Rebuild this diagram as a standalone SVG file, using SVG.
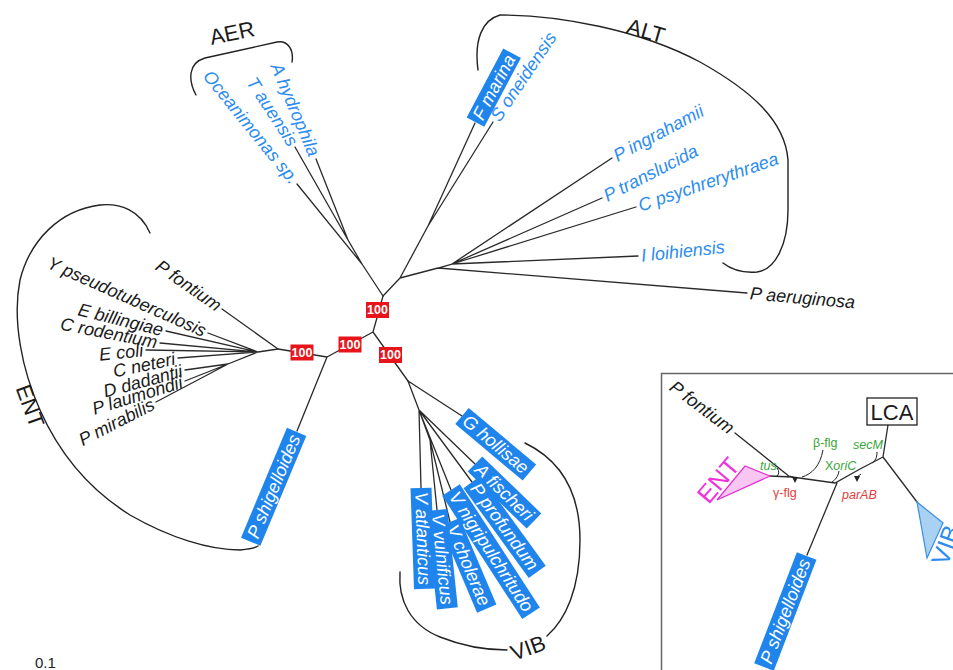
<svg xmlns="http://www.w3.org/2000/svg" width="953" height="670" viewBox="0 0 953 670">
<defs>
<style>
.br{fill:none;stroke:#2a2a2a;stroke-width:1.3;stroke-linecap:round}
.bk{fill:none;stroke:#222;stroke-width:1.4;stroke-linecap:round}
.t{font-family:"Liberation Sans",Arial,Helvetica,sans-serif;font-size:18px;font-style:italic;dominant-baseline:central}
.bl{fill:#2b8cf0}
.k{fill:#1a1a1a}
.w{fill:#fff}
.e{text-anchor:end}
.bx{fill:#1f85ec}
.rb{fill:#e8141b}
.bt{font-family:"Liberation Sans",Arial,sans-serif;font-size:12.5px;font-weight:bold;fill:#fff;text-anchor:middle;dominant-baseline:central}
.cl{font-family:"Liberation Sans",Arial,sans-serif;font-size:22px;fill:#1a1a1a;text-anchor:middle;dominant-baseline:central}
.g{font-family:"Liberation Sans",Arial,sans-serif;font-size:12.5px;fill:#3aa63a}
.r{font-family:"Liberation Sans",Arial,sans-serif;font-size:12.5px;fill:#e53b3b}
.hk{fill:none;stroke:#222;stroke-width:1}
</style>
<marker id="ah" viewBox="0 0 6 6" refX="3" refY="3" markerWidth="6" markerHeight="6" orient="auto">
<path d="M0,0 L6,3 L0,6 Z" fill="#222"/>
</marker>
</defs>
<rect width="953" height="670" fill="#fff"/>

<g id="connectors" class="br">
<path d="M383,296 L373,332 M373,332 L327,357 M373,332 L408,381 M327,357 L278,349 M327,357 L297,431"/>
<path d="M383,296 L362,264 M362,264 L297,184 M362,264 L348,240 M348,240 L295,147 M348,240 L316,159"/>
<path d="M383,296 L400,278 M400,278 L428,226 M428,226 L475,123 M428,226 L493,122 M400,278 L438,268 M438,268 L747,293 M438,268 L452,264 M452,264 L612,158 M452,264 L602,198 M452,264 L636,207 M452,264 L638,256"/>
<path d="M278,349 L222,309 M278,349 L258,352 M258,352 L208,333 M258,352 L166,331 M258,352 L160,343 M258,352 L146,350 M258,352 L178,358 M258,352 L228,364 M228,364 L185,370 M228,364 L185,381 M228,364 L156,402"/>
<path d="M408,381 L462,416 M408,381 L419,410 M419,410 L475,464 M419,410 L472,482 M419,410 L451,490 M419,410 L421,488 M419,410 L430,440 M430,440 L437,510 M430,440 L450,522"/>
</g>

<g id="support">
<g id="bs-root"><rect class="rb" x="366" y="302" width="23" height="16"/><text class="bt" x="377.5" y="310">100</text></g>
<g id="bs-ent-pshig"><rect class="rb" x="338.5" y="336.5" width="23" height="16"/><text class="bt" x="350" y="344.5">100</text></g>
<g id="bs-vib"><rect class="rb" x="379" y="347" width="23" height="16"/><text class="bt" x="390.5" y="355">100</text></g>
<g id="bs-ent"><rect class="rb" x="290.5" y="344.5" width="23" height="16"/><text class="bt" x="302" y="352.5">100</text></g>
</g>

<g id="clade-AER">
<path class="bk" d="M196,95 C188,80 188,63 205,58 L277,42 C288,40 294,50 292,62"/>
<text class="cl" transform="translate(232,33) rotate(-12)">AER</text>
</g>
<g id="clade-ALT">
<path class="bk" d="M478,70 C474,40 482,20 500,15 C560,15 640,30 700,62 C750,90 785,120 788,160 L788,210 C788,245 775,270 757,272 C745,273 732,270 723,263"/>
<text class="cl" transform="translate(646,31) rotate(16)">ALT</text>
</g>
<g id="clade-ENT">
<path class="bk" d="M150,233 C140,210 120,203 100,205 C60,210 30,240 20,280 C12,320 22,370 40,410 C60,455 90,490 130,515 C170,538 210,550 240,550 C250,549 255,548 258,546"/>
<text class="cl" transform="translate(30,406) rotate(70)">ENT</text>
</g>
<g id="clade-VIB">
<path class="bk" d="M400,572 C398,600 410,625 440,637 C460,645 485,650 507,650"/>
<path class="bk" d="M547,636 C565,620 580,590 580,540 C580,490 560,460 525,443"/>
<text class="cl" transform="translate(528,648) rotate(-20)">VIB</text>
</g>

<g id="n-ahydrophila"><text class="t bl e" transform="translate(314.5,155.5) rotate(67)">A hydrophila</text></g>
<g id="n-tauensis"><text class="t bl e" transform="translate(293.4,144.5) rotate(57)">T auensis</text></g>
<g id="n-oceanimonas"><text class="t bl e" transform="translate(295,181.7) rotate(51)">Oceanimonas sp.</text></g>

<g id="n-fmarina" transform="translate(475,123) rotate(-62)"><rect class="bx" x="1" y="-10" width="78" height="20"/><text class="t w" x="5" y="0">F marina</text></g>
<g id="n-soneidensis"><text class="t bl" transform="translate(494.7,119.5) rotate(-56)">S oneidensis</text></g>
<g id="n-pingrahamii"><text class="t bl" transform="translate(614.6,156.6) rotate(-28)">P ingrahamii</text></g>
<g id="n-ptranslucida"><text class="t bl" transform="translate(604.7,196.6) rotate(-27)">P translucida</text></g>
<g id="n-cpsychrerythraea"><text class="t bl" transform="translate(638.8,206) rotate(-19)">C psychrerythraea</text></g>
<g id="n-iloihiensis"><text class="t bl" transform="translate(641,255.7) rotate(-6)">I loihiensis</text></g>
<g id="n-paeruginosa"><text class="t k" transform="translate(750,293.3) rotate(5)">P aeruginosa</text></g>

<g id="n-pfontium"><text class="t k e" transform="translate(219.5,307.3) rotate(35)">P fontium</text></g>
<g id="n-ypseudo"><text class="t k e" transform="translate(205.3,331.8) rotate(24)">Y pseudotuberculosis</text></g>
<g id="n-ebillingiae"><text class="t k e" transform="translate(163,330.3) rotate(14)">E billingiae</text></g>
<g id="n-crodentium"><text class="t k e" transform="translate(157,342.4) rotate(11)">C rodentium</text></g>
<g id="n-ecoli"><text class="t k e" transform="translate(143,350.3) rotate(-6)">E coli</text></g>
<g id="n-cneteri"><text class="t k e" transform="translate(175,358.6) rotate(-12)">C neteri</text></g>
<g id="n-ddadantii"><text class="t k e" transform="translate(182,370.8) rotate(-15)">D dadantii</text></g>
<g id="n-plaumondii"><text class="t k e" transform="translate(182,381.9) rotate(-17)">P laumondii</text></g>
<g id="n-pmirabilis"><text class="t k e" transform="translate(153.3,403.4) rotate(-27)">P mirabilis</text></g>

<g id="n-pshigelloides" transform="translate(297,431) rotate(-67.3)"><rect class="bx" x="-120" y="-10.5" width="119" height="21"/><text class="t w e" x="-5" y="0">P shigelloides</text></g>

<g id="n-ghollisae" transform="translate(462,416) rotate(40)"><rect class="bx" x="0" y="-10.5" width="88" height="21"/><text class="t w" x="4" y="0">G hollisae</text></g>
<g id="n-afischeri" transform="translate(475,464) rotate(44)"><rect class="bx" x="0" y="-10.5" width="82" height="21"/><text class="t w" x="4" y="0">A fischeri</text></g>
<g id="n-pprofundum" transform="translate(472,482) rotate(54)"><rect class="bx" x="0" y="-10.5" width="111" height="21"/><text class="t w" x="4" y="0">P profundum</text></g>
<g id="n-vnigripulchritudo" transform="translate(451,490) rotate(57)"><rect class="bx" x="0" y="-10.5" width="147" height="21"/><text class="t w" x="4" y="0">V nigripulchritudo</text></g>
<g id="n-vcholerae" transform="translate(450,522) rotate(67)"><rect class="bx" x="0" y="-10.5" width="94" height="21"/><text class="t w" x="4" y="0">V cholerae</text></g>
<g id="n-vvulnificus" transform="translate(437,510) rotate(84)"><rect class="bx" x="0" y="-10.5" width="99" height="21"/><text class="t w" x="4" y="0">V vulnificus</text></g>
<g id="n-vatlanticus" transform="translate(421,488) rotate(88)"><rect class="bx" x="0" y="-10.5" width="101" height="21"/><text class="t w" x="4" y="0">V atlanticus</text></g>

<g id="scale"><text x="35" y="668" font-family="Liberation Sans, Arial, sans-serif" font-size="15" fill="#222">0.1</text></g>

<g id="inset">
<rect x="661.5" y="373.5" width="300" height="300" fill="#fff" stroke="#666" stroke-width="1.5"/>
<g id="inset-connectors" class="br">
<path d="M735,433 L790,477 M770,476 L792,477 L835,483 L860,469 L883,457 M837,483 L807,555 M883,457 L888,425 M883,457 L917,502"/>
</g>
<g id="inset-ent"><polygon points="770,476 745,466 717,500" fill="#f7c6f1" stroke="#e22fd2" stroke-width="1.2"/>
<text transform="translate(718,480) rotate(-50)" font-family="Liberation Sans, Arial, sans-serif" font-size="25" fill="#ee33dd" text-anchor="middle" dominant-baseline="central">ENT</text></g>
<g id="inset-vib"><polygon points="917,502 943,523 927,558" fill="#a9d1f2" stroke="#3b8fe0" stroke-width="1.2"/>
<text transform="translate(947,567) rotate(-70)" font-family="Liberation Sans, Arial, sans-serif" font-size="25" fill="#2b8cf0">VIB</text></g>
<g id="inset-pfontium"><text class="t k e" transform="translate(732,430) rotate(37)">P fontium</text></g>
<g id="inset-lca"><rect x="867" y="398" width="50" height="27" fill="#fff" stroke="#222" stroke-width="1.3"/><text class="cl" x="892" y="412">LCA</text></g>
<g id="inset-pshigelloides" transform="translate(807,555) rotate(-69)"><rect class="bx" x="-120" y="-10.5" width="119" height="21"/><text class="t w e" x="-5" y="0">P shigelloides</text></g>
<g id="inset-genes">
<text class="g" x="760" y="470" font-style="italic">tus</text>
<path class="hk" d="M777,468 Q781,473 776,477"/>
<text class="g" x="813" y="447">β-flg</text>
<path class="hk" d="M823,450 C820,466 812,474 802,477"/>
<text class="r" x="773" y="497">γ-flg</text>
<path class="hk" d="M790,476 Q795,477 795,480" marker-end="url(#ah)"/>
<text class="g" x="825" y="470">X<tspan font-style="italic">oriC</tspan></text>
<path class="hk" d="M839,471 C838,477 835,480 832,482"/>
<text class="g" x="853" y="449" font-style="italic">secM</text>
<path class="hk" d="M877,452 C877,458 875,461 872,463"/>
<text class="r" x="842" y="499" font-style="italic">parAB</text>
<path class="hk" d="M861,474 Q857,476 857,479" marker-end="url(#ah)"/>
</g>
</g>
</svg>
